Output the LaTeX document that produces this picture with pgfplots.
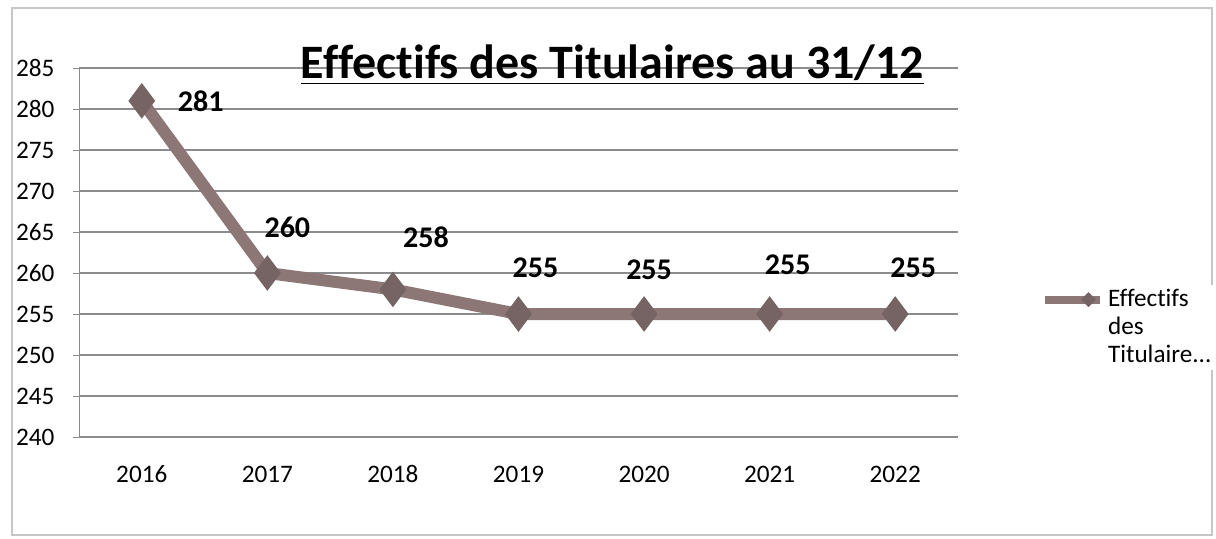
\documentclass[border=0pt]{standalone}
\usepackage{pgfplots}
\pgfplotsset{compat=1.18}
\usetikzlibrary{shapes.geometric}
\usepackage{fontspec}
\setmainfont[Ligatures=NoCommon]{Carlito}
\definecolor{linec}{RGB}{140,118,118}
\definecolor{markc}{RGB}{118,100,100}
\definecolor{gridc}{RGB}{140,140,140}
\begin{document}
\begin{tikzpicture}[x=0.5pt,y=0.5pt]
\useasboundingbox (0,0) rectangle (1216,538);
\draw[gray!45, line width=0.8pt] (12,3) rectangle (1212,530);
\begin{axis}[
  at={(79pt*0.5,101pt*0.5)}, anchor=south west,
  width=439.5pt, height=184.5pt, scale only axis,
  xmin=-0.5, xmax=6.5, ymin=240, ymax=285,
  axis lines=left, axis line style={draw=gridc, -},
  xtick={0,...,6},
  xticklabels={2016,2017,2018,2019,2020,2021,2022},
  x tick style={draw=none},
  extra x ticks={-0.5,0.5,1.5,2.5,3.5,4.5,5.5,6.5},
  extra x tick labels={},
  extra x tick style={major tick length=4pt, tick style={draw=gridc}, tick pos=left, grid=none, xtick align=outside},
  ytick={240,245,...,285},
  ymajorgrids, grid style={draw=gridc, line width=0.6pt},
  y tick style={draw=gridc},
  ytick align=outside, major tick length=3pt,
  yticklabel style={anchor=west, xshift=-32pt, font=\fontsize{12.6}{14}\selectfont},
  xticklabel style={font=\fontsize{12.6}{14}\selectfont, anchor=base, yshift=-21pt},
  /pgf/number format/assume math mode=true,
  clip=false,
  title={\underline{Effectifs des Titulaires au 31/12}},
  title style={font=\bfseries\fontsize{24}{28}\selectfont, at={(0.607,1)}, anchor=base, yshift=-11pt},
  legend style={draw=none, at={(1.094,0.412)}, anchor=north west, font=\fontsize{12.6}{14}\selectfont, nodes={align=left}, inner sep=0pt},
  legend cell align=left,
  legend image code/.code={
    \draw[linec, line width=4pt] (0pt,14pt) -- (27.5pt,14pt);
    \path (13.75pt,14pt) node[diamond, fill=markc, inner sep=0pt, minimum size=10pt] {};
  },
]
\addplot[color=linec, line width=6pt, mark=diamond*, mark size=8.5pt,
  mark options={fill=markc, draw=markc, line width=0.5pt}]
  coordinates {(0,281) (1,260) (2,258) (3,255) (4,255) (5,255) (6,255)};
\addlegendentry{Effectifs\\des\\Titulaire...}
\addplot[draw=none, mark=none, forget plot,
  nodes near coords, point meta=explicit symbolic,
  visualization depends on={\thisrow{dx} \as \dx},
  visualization depends on={\thisrow{dy} \as \dy},
  every node near coord/.append style={anchor=center, xshift=\dx pt, yshift=\dy pt, font=\bfseries\fontsize{15}{17}\selectfont}]
  table[x=x, y=y, meta=lab] {
x y lab dx dy
0 281 281 29.5 0
1 260 260 10 23
2 258 258 16.5 26
3 255 255 8.5 23
4 255 255 2.5 22
5 255 255 9 24.5
6 255 255 9 23
};
\end{axis}
\end{tikzpicture}
\end{document}
